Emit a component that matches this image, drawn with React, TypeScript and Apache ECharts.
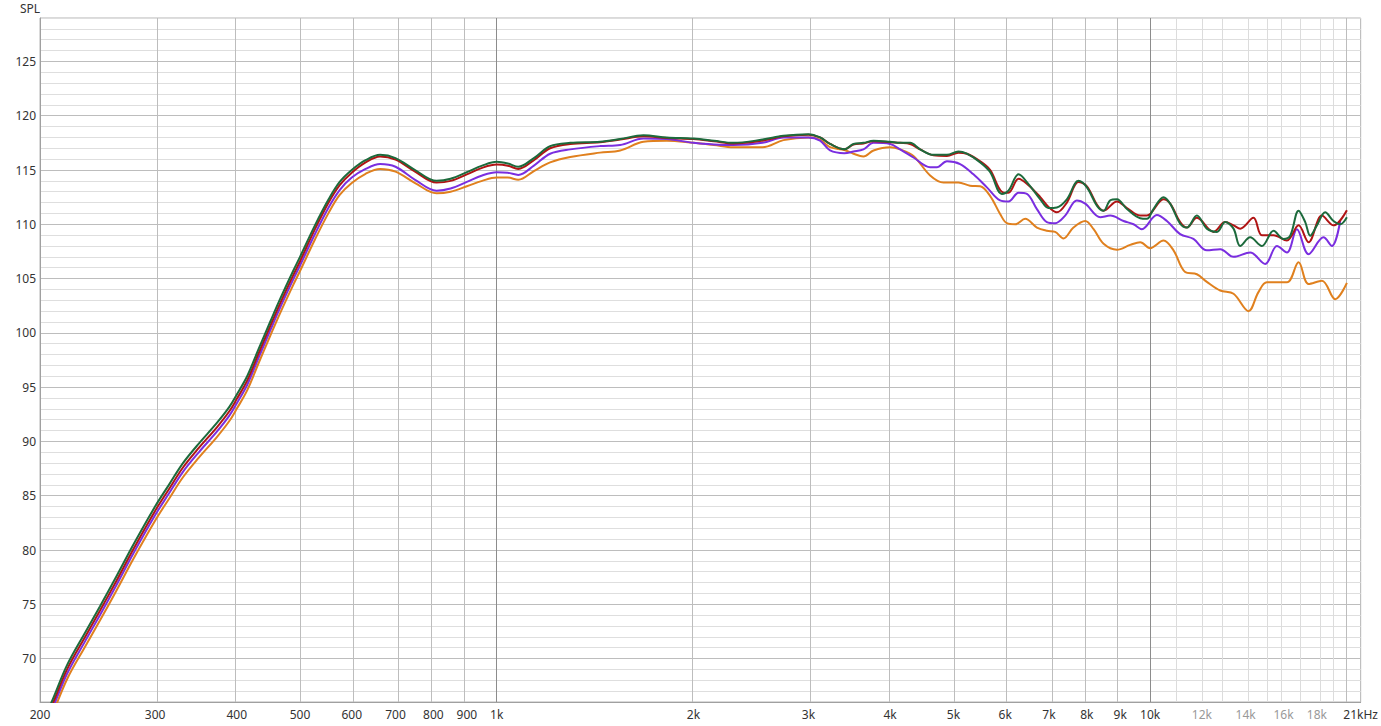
import React, { useEffect, useRef } from "react";
import * as echarts from "echarts";

// Shared low/mid-frequency sampling points (Hz)
const freqLow = [200, 208, 220, 235, 247, 262, 278, 300, 315, 331, 350, 373, 390, 400, 415, 432, 450, 466, 488, 500, 527, 553, 575, 600, 630, 663, 700, 750, 809, 850, 900, 950, 1000, 1040, 1079, 1140, 1207, 1296, 1439, 1545, 1677, 1821, 2000, 2150, 2302, 2551, 2747, 3000, 3125, 3237, 3404, 3515, 3641, 3773, 4000];

const greenLow = [63.8, 65.9, 69.4, 72.5, 74.8, 77.6, 80.5, 84.0, 86.0, 88.0, 89.8, 91.7, 93.2, 94.3, 96.0, 98.5, 101.0, 103.1, 105.7, 107.0, 109.9, 112.3, 113.9, 115.0, 115.9, 116.4, 116.1, 115.0, 114.0, 114.2, 114.8, 115.4, 115.75, 115.6, 115.3, 116.1, 117.2, 117.5, 117.6, 117.85, 118.2, 118.0, 117.9, 117.7, 117.5, 117.8, 118.15, 118.3, 118.0, 117.4, 116.9, 117.4, 117.5, 117.7, 117.6];
const redLow = [63.4, 65.5, 69.0, 72.1, 74.4, 77.2, 80.1, 83.6, 85.6, 87.6, 89.4, 91.3, 92.8, 93.9, 95.6, 98.1, 100.6, 102.7, 105.3, 106.6, 109.55, 112.0, 113.6, 114.75, 115.7, 116.25, 115.95, 114.85, 113.85, 114.0, 114.6, 115.2, 115.5, 115.4, 115.1, 115.9, 117.0, 117.4, 117.55, 117.8, 118.1, 117.95, 117.85, 117.65, 117.45, 117.7, 118.1, 118.25, 118.0, 117.4, 116.9, 117.35, 117.45, 117.65, 117.55];
const purpleLow = [63.0, 65.1, 68.6, 71.7, 74.0, 76.8, 79.7, 83.2, 85.2, 87.2, 89.0, 90.9, 92.4, 93.5, 95.2, 97.7, 100.2, 102.3, 104.9, 106.2, 109.1, 111.55, 113.15, 114.3, 115.1, 115.55, 115.3, 114.1, 113.1, 113.3, 113.9, 114.5, 114.8, 114.75, 114.55, 115.4, 116.5, 116.9, 117.2, 117.3, 117.9, 117.85, 117.5, 117.35, 117.3, 117.5, 118.0, 118.0, 117.7, 116.8, 116.55, 116.7, 116.9, 117.5, 117.4];
const orangeLow = [62.5, 64.6, 68.1, 71.2, 73.5, 76.3, 79.2, 82.7, 84.7, 86.7, 88.5, 90.4, 91.9, 93.0, 94.7, 97.2, 99.7, 101.8, 104.4, 105.7, 108.6, 111.05, 112.7, 113.8, 114.65, 115.1, 114.85, 113.8, 112.85, 113.0, 113.5, 114.0, 114.3, 114.3, 114.1, 114.9, 115.7, 116.2, 116.6, 116.8, 117.6, 117.7, 117.5, 117.3, 117.1, 117.1, 117.75, 118.0, 117.8, 117.1, 116.85, 116.5, 116.25, 116.8, 117.1];

// High-frequency readings, per series
const greenHighFreq = [4144, 4293, 4446, 4660, 4887, 5088, 5242, 5495, 5692, 5930, 6070, 6290, 6514, 6790, 6990, 7198, 7457, 7769, 8003, 8293, 8488, 8689, 8896, 9216, 9657, 9887, 10118, 10482, 10734, 11117, 11382, 11790, 12212, 12655, 13030, 13417, 13736, 14226, 14825, 15448, 16000, 16382, 16872, 17273, 17580, 17997, 18533, 19083, 19540, 20005];
const greenHigh = [117.5, 117.5, 116.9, 116.4, 116.4, 116.7, 116.5, 115.7, 114.8, 112.8, 113.1, 114.6, 113.7, 112.3, 111.5, 111.55, 112.3, 114.0, 113.4, 111.7, 111.25, 112.2, 112.3, 111.4, 110.55, 110.5, 111.4, 112.5, 111.9, 110.05, 109.7, 110.8, 109.6, 109.3, 110.2, 109.6, 108.0, 108.8, 108.0, 109.4, 108.65, 108.95, 111.25, 110.2, 108.95, 109.9, 111.1, 110.3, 110.0, 110.65];

const redHighFreq = [4144, 4293, 4446, 4660, 4887, 5088, 5242, 5495, 5692, 5930, 6070, 6290, 6514, 6790, 6990, 7198, 7457, 7769, 8003, 8293, 8488, 8896, 9216, 9657, 9887, 10482, 10734, 11117, 11382, 11790, 12503, 13030, 13417, 13736, 14393, 14825, 15448, 16194, 16872, 17478, 18320, 19083, 20005];
const redHigh = [117.5, 117.4, 116.9, 116.35, 116.3, 116.6, 116.5, 115.8, 115.0, 113.0, 112.9, 114.2, 113.6, 112.5, 111.6, 111.1, 112.0, 113.9, 113.5, 111.8, 111.25, 112.1, 111.5, 110.8, 110.8, 112.3, 111.9, 110.2, 109.7, 110.6, 109.3, 110.2, 109.9, 109.6, 110.6, 109.0, 109.0, 108.5, 109.9, 108.35, 110.8, 109.9, 111.3];

const purpleHighFreq = [4144, 4343, 4606, 4716, 4887, 5119, 5365, 5626, 5894, 6070, 6290, 6477, 6710, 6950, 7156, 7412, 7724, 7956, 8389, 8689, 9106, 9432, 9715, 10240, 10608, 11117, 11650, 12212, 12802, 13417, 14226, 15000, 15635, 16194, 16775, 17478, 18422, 18977, 19540];
const purpleHigh = [116.9, 116.15, 115.25, 115.25, 115.8, 115.55, 114.6, 113.4, 112.2, 112.1, 112.9, 112.8, 111.4, 110.2, 110.1, 110.8, 112.2, 111.9, 110.65, 110.8, 110.3, 110.0, 109.55, 110.85, 110.3, 109.1, 108.65, 107.6, 107.7, 107.0, 107.4, 106.35, 108.0, 107.4, 109.55, 107.25, 108.8, 108.0, 110.3];

const orangeHighFreq = [4144, 4343, 4606, 4828, 5088, 5302, 5495, 5692, 5894, 6036, 6216, 6439, 6710, 6950, 7156, 7368, 7632, 7956, 8194, 8488, 8896, 9323, 9657, 10000, 10482, 10859, 11314, 11790, 12212, 12802, 13417, 14143, 14648, 15090, 16194, 16872, 17478, 18320, 19198, 20005];
const orangeHigh = [116.9, 116.3, 114.5, 113.85, 113.85, 113.55, 113.5, 112.6, 110.95, 110.1, 110.0, 110.5, 109.7, 109.4, 109.3, 108.7, 109.7, 110.3, 109.55, 108.2, 107.65, 108.1, 108.35, 107.8, 108.5, 107.6, 105.6, 105.4, 104.7, 103.9, 103.6, 102.0, 103.75, 104.65, 104.65, 106.5, 104.5, 104.8, 103.1, 104.6];

// Axis labels and grid positions (Hz)
const xTickLabels = [200, 300, 400, 500, 600, 700, 800, 900, 1000, 2000, 3000, 4000, 5000, 6000, 7000, 8000, 9000, 10000, 12000, 14000, 16000, 18000, 21000];
const dimLabels = [12000, 14000, 16000, 18000];
const gridMajorHz = [1000, 10000];
const gridMidHz = [300, 400, 500, 600, 700, 800, 900, 2000, 3000, 4000, 5000, 6000, 7000, 8000, 9000, 20000];
const gridMinorHz = [11000, 12000, 13000, 14000, 15000, 16000, 17000, 18000, 19000];

const X_MIN = 200;
const X_MAX = 21000;
const Y_MIN = 66;
const Y_MAX = 129;

const lg = (f: number) => Math.log10(f);
const toPts = (f: number[], v: number[]) => f.map((x, i) => [lg(x), v[i]]);

function fmtHz(v: number): string {
  const f = Math.round(Math.pow(10, v));
  if (f >= 20500) return "21kHz";
  if (f >= 1000) return Math.round(f / 1000) + "k";
  return String(f);
}

export default function App() {
  const ref = useRef<HTMLDivElement>(null);
  useEffect(() => {
    if (!ref.current) return;
    const chart = echarts.init(ref.current, undefined, { renderer: "svg" });
    const font = "'Noto Sans', 'Open Sans', sans-serif";
    const mk = (arr: number[], color: string) =>
      arr.map((f) => ({ xAxis: lg(f), lineStyle: { color, width: 1, type: "solid" } }));
    const lineSeries = (name: string, data: number[][], color: string) => ({
      name,
      type: "line",
      data,
      showSymbol: false,
      symbol: "none",
      smooth: 0.35,
      clip: true,
      lineStyle: { color, width: 2 },
      z: 3,
    });
    chart.setOption({
      animation: false,
      backgroundColor: "#ffffff",
      grid: {
        left: 40,
        right: 20,
        top: 18,
        bottom: 24,
        show: true,
        borderColor: "#b4b4b4",
        borderWidth: 1,
        backgroundColor: "transparent",
      },
      graphic: [
        {
          type: "text",
          left: 20,
          top: 2,
          style: { text: "SPL", fill: "#333", font: `12px ${font}` },
        },
      ],
      xAxis: {
        type: "value",
        min: lg(X_MIN),
        max: lg(X_MAX),
        axisLine: { show: true, lineStyle: { color: "#a0a0a0" } },
        axisTick: { show: false },
        splitLine: { show: false },
        axisLabel: {
          customValues: xTickLabels.map(lg),
          formatter: (v: number) => fmtHz(v),
          color: (v: number) => (dimLabels.some((d) => Math.abs(lg(d) - v) < 1e-6) ? "#999999" : "#333333"),
          fontFamily: font,
          fontSize: 12,
          margin: 6,
          showMinLabel: true,
          showMaxLabel: true,
        },
      },
      yAxis: {
        type: "value",
        min: Y_MIN,
        max: Y_MAX,
        interval: 1,
        axisLine: { show: true, lineStyle: { color: "#a0a0a0" } },
        axisTick: { show: false },
        splitLine: {
          show: true,
          lineStyle: { color: ["#dedede", "#dedede", "#dedede", "#dedede", "#bdbdbd"], width: 1 },
        },
        axisLabel: {
          interval: 0,
          formatter: (v: number) => (Math.round(v) % 5 === 0 && v > Y_MIN && v < Y_MAX ? String(Math.round(v)) : ""),
          color: "#333333",
          fontFamily: font,
          fontSize: 12,
          margin: 4,
        },
      },
      series: [
        {
          name: "grid",
          type: "line",
          data: [],
          silent: true,
          markLine: {
            silent: true,
            symbol: ["none", "none"],
            label: { show: false },
            animation: false,
            z: 1,
            data: [
              ...mk(gridMinorHz, "#dcdcdc"),
              ...mk(gridMidHz, "#bdbdbd"),
              ...mk(gridMajorHz, "#8c8c8c"),
            ],
          },
        },
        lineSeries("orange", toPts([...freqLow, ...orangeHighFreq], [...orangeLow, ...orangeHigh]), "#e0801e"),
        lineSeries("purple", toPts([...freqLow, ...purpleHighFreq], [...purpleLow, ...purpleHigh]), "#7a2ee0"),
        lineSeries("red", toPts([...freqLow, ...redHighFreq], [...redLow, ...redHigh]), "#b01414"),
        lineSeries("green", toPts([...freqLow, ...greenHighFreq], [...greenLow, ...greenHigh]), "#1c6a3c"),
      ],
    });
    return () => chart.dispose();
  }, []);
  return <div ref={ref} style={{ position: "fixed", left: 0, top: 0, width: 1381, height: 726 }} />;
}
